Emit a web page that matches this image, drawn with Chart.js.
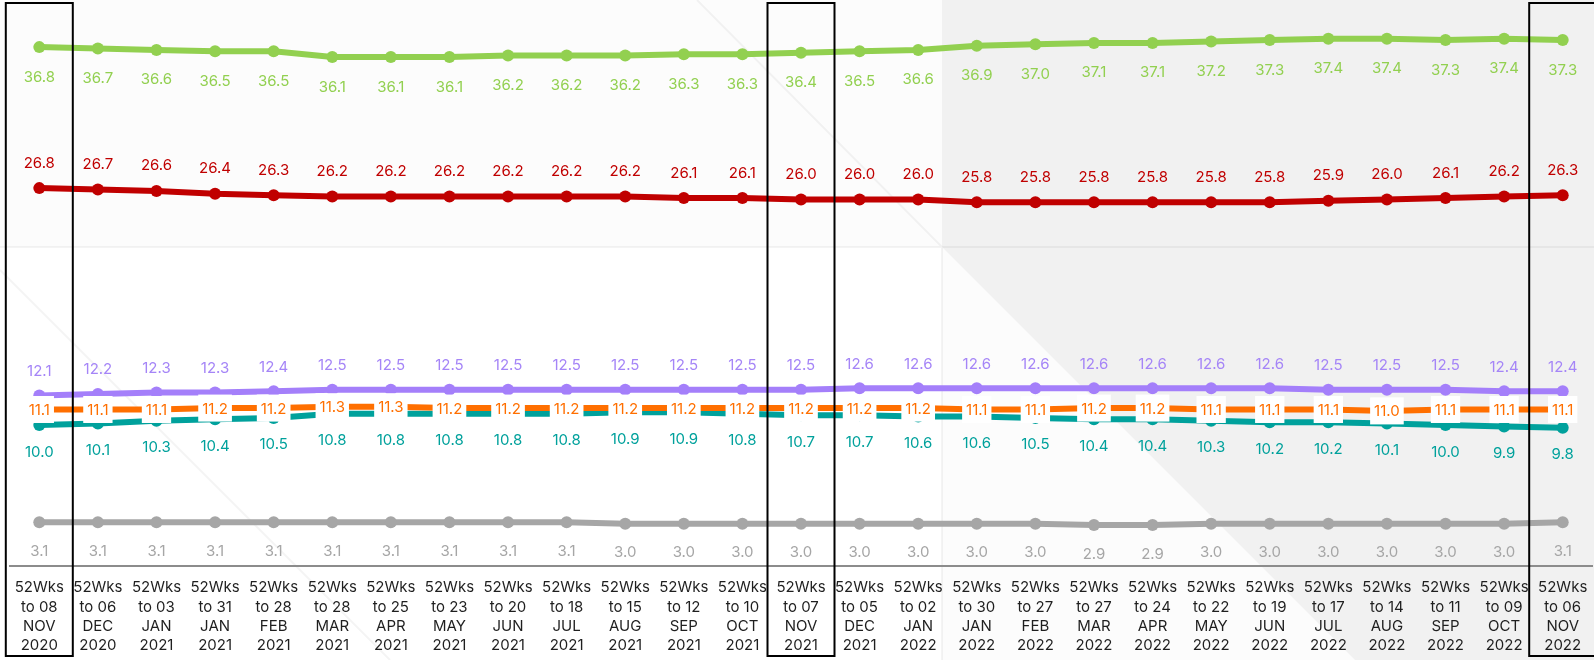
<!DOCTYPE html>
<html>
<head>
<meta charset="utf-8">
<script src="https://cdn.jsdelivr.net/npm/chart.js@4.4.1/dist/chart.umd.min.js"></script>
<style>
  html, body { margin: 0; padding: 0; background: #fdfdfd; }
  #wrap { width: 1594px; height: 660px; position: relative; }
</style>
</head>
<body>
<div id="wrap"><canvas id="c" width="1594" height="660"></canvas></div>
<script>
// Period labels (each tick is four lines)
const periods = [
  ['52Wks', 'to 08', 'NOV', '2020'],
  ['52Wks', 'to 06', 'DEC', '2020'],
  ['52Wks', 'to 03', 'JAN', '2021'],
  ['52Wks', 'to 31', 'JAN', '2021'],
  ['52Wks', 'to 28', 'FEB', '2021'],
  ['52Wks', 'to 28', 'MAR', '2021'],
  ['52Wks', 'to 25', 'APR', '2021'],
  ['52Wks', 'to 23', 'MAY', '2021'],
  ['52Wks', 'to 20', 'JUN', '2021'],
  ['52Wks', 'to 18', 'JUL', '2021'],
  ['52Wks', 'to 15', 'AUG', '2021'],
  ['52Wks', 'to 12', 'SEP', '2021'],
  ['52Wks', 'to 10', 'OCT', '2021'],
  ['52Wks', 'to 07', 'NOV', '2021'],
  ['52Wks', 'to 05', 'DEC', '2021'],
  ['52Wks', 'to 02', 'JAN', '2022'],
  ['52Wks', 'to 30', 'JAN', '2022'],
  ['52Wks', 'to 27', 'FEB', '2022'],
  ['52Wks', 'to 27', 'MAR', '2022'],
  ['52Wks', 'to 24', 'APR', '2022'],
  ['52Wks', 'to 22', 'MAY', '2022'],
  ['52Wks', 'to 19', 'JUN', '2022'],
  ['52Wks', 'to 17', 'JUL', '2022'],
  ['52Wks', 'to 14', 'AUG', '2022'],
  ['52Wks', 'to 11', 'SEP', '2022'],
  ['52Wks', 'to 09', 'OCT', '2022'],
  ['52Wks', 'to 06', 'NOV', '2022']
];

const greenSeries  = [36.8, 36.7, 36.6, 36.5, 36.5, 36.1, 36.1, 36.1, 36.2, 36.2, 36.2, 36.3, 36.3, 36.4, 36.5, 36.6, 36.9, 37.0, 37.1, 37.1, 37.2, 37.3, 37.4, 37.4, 37.3, 37.4, 37.3];
const redSeries    = [26.8, 26.7, 26.6, 26.4, 26.3, 26.2, 26.2, 26.2, 26.2, 26.2, 26.2, 26.1, 26.1, 26.0, 26.0, 26.0, 25.8, 25.8, 25.8, 25.8, 25.8, 25.8, 25.9, 26.0, 26.1, 26.2, 26.3];
const purpleSeries = [12.1, 12.2, 12.3, 12.3, 12.4, 12.5, 12.5, 12.5, 12.5, 12.5, 12.5, 12.5, 12.5, 12.5, 12.6, 12.6, 12.6, 12.6, 12.6, 12.6, 12.6, 12.6, 12.5, 12.5, 12.5, 12.4, 12.4];
const orangeSeries = [11.1, 11.1, 11.1, 11.2, 11.2, 11.3, 11.3, 11.2, 11.2, 11.2, 11.2, 11.2, 11.2, 11.2, 11.2, 11.2, 11.1, 11.1, 11.2, 11.2, 11.1, 11.1, 11.1, 11.0, 11.1, 11.1, 11.1];
const tealSeries   = [10.0, 10.1, 10.3, 10.4, 10.5, 10.8, 10.8, 10.8, 10.8, 10.8, 10.9, 10.9, 10.8, 10.7, 10.7, 10.6, 10.6, 10.5, 10.4, 10.4, 10.3, 10.2, 10.2, 10.1, 10.0, 9.9, 9.8];
const greySeries   = [3.1, 3.1, 3.1, 3.1, 3.1, 3.1, 3.1, 3.1, 3.1, 3.1, 3.0, 3.0, 3.0, 3.0, 3.0, 3.0, 3.0, 3.0, 2.9, 2.9, 3.0, 3.0, 3.0, 3.0, 3.0, 3.0, 3.1];

// Columns outlined with a black frame
const framedColumns = [0, 13, 26];

const FONT = 'Inter, "Open Sans", sans-serif';

// Backdrop: pale panels and faint diagonal rules behind the plot
const backdrop = {
  id: 'backdrop',
  beforeDraw(chart) {
    const ctx = chart.ctx;
    const W = chart.width, H = chart.height;
    ctx.save();
    ctx.fillStyle = '#fcfcfc';
    ctx.fillRect(0, 0, W, H);
    ctx.fillStyle = '#ffffff';
    ctx.fillRect(0, 247, 942, H - 247);
    // grey panel at upper right, cut diagonally below the split line
    ctx.fillStyle = '#f1f1f1';
    ctx.beginPath();
    ctx.moveTo(942, 0);
    ctx.lineTo(W, 0);
    ctx.lineTo(W, H);
    ctx.lineTo(942 + (H - 247), H);
    ctx.lineTo(942, 247);
    ctx.closePath();
    ctx.fill();
    // faint rules
    ctx.strokeStyle = 'rgba(0,0,0,0.045)';
    ctx.lineWidth = 2;
    ctx.beginPath();
    ctx.moveTo(0, 247); ctx.lineTo(W, 247);
    ctx.moveTo(942, 247); ctx.lineTo(942, H);
    ctx.moveTo(697, 0); ctx.lineTo(942, 247);
    ctx.moveTo(0, 270); ctx.lineTo(390, 660);
    ctx.stroke();
    ctx.restore();
  }
};

// Value labels drawn next to each point
const labelSpec = [
  { color: '#92d050', dy: 29 },
  { color: '#c00000', dy: -26 },
  { color: '#a585f7', dy: -25 },
  { color: '#ff6f00', dy: 0, box: true },
  { color: '#00a19c', dy: 26 },
  { color: '#a6a6a6', dy: 28 }
];

const valueLabels = {
  id: 'valueLabels',
  afterDatasetsDraw(chart) {
    const ctx = chart.ctx;
    ctx.save();
    ctx.font = '15px ' + FONT;
    ctx.textAlign = 'center';
    ctx.textBaseline = 'middle';
    // boxed labels go last so they sit over the lines
    const order = [0, 1, 2, 4, 5, 3];
    order.forEach(di => {
      const spec = labelSpec[di];
      const meta = chart.getDatasetMeta(di);
      const data = chart.data.datasets[di].data;
      meta.data.forEach((pt, i) => {
        const txt = data[i].toFixed(1);
        const x = pt.x, y = pt.y + spec.dy;
        if (spec.box) {
          const w = ctx.measureText(txt).width + 8;
          ctx.fillStyle = '#ffffff';
          ctx.fillRect(x - w / 2, y - 13.5, w, 27);
        }
        ctx.fillStyle = spec.color;
        ctx.fillText(txt, x, y + 1);
      });
    });
    ctx.restore();
  }
};

// Black frames around selected columns
const columnFrames = {
  id: 'columnFrames',
  afterDraw(chart) {
    const ctx = chart.ctx;
    const xs = chart.scales.x;
    ctx.save();
    ctx.strokeStyle = '#000000';
    ctx.lineWidth = 2;
    framedColumns.forEach(i => {
      const cx = xs.getPixelForValue(i);
      ctx.strokeRect(cx - 33.5, 3, 67, 653);
    });
    ctx.restore();
  }
};

function lineSet(data, color) {
  return {
    data,
    borderColor: color,
    backgroundColor: color,
    borderWidth: 6,
    pointRadius: 6,
    pointBorderWidth: 0,
    pointBackgroundColor: color,
    tension: 0,
    clip: false
  };
}

new Chart(document.getElementById('c'), {
  type: 'line',
  data: {
    labels: periods,
    datasets: [
      lineSet(greenSeries, '#92d050'),
      lineSet(redSeries, '#c00000'),
      lineSet(purpleSeries, '#a47ffa'),
      lineSet(orangeSeries, '#ff6f00'),
      lineSet(tealSeries, '#00a19c'),
      lineSet(greySeries, '#a6a6a6')
    ]
  },
  options: {
    responsive: false,
    animation: false,
    devicePixelRatio: 1,
    layout: { autoPadding: false, padding: { top: 2, left: 10, right: 2, bottom: 0 } },
    plugins: {
      legend: { display: false },
      tooltip: { enabled: false }
    },
    scales: {
      x: {
        offset: true,
        grid: { display: false, drawTicks: true, tickLength: 12 },
        border: { display: true, color: '#8c8c8c', width: 2 },
        ticks: {
          color: '#1f1f1f',
          font: { family: FONT, size: 15, lineHeight: 1.29 },
          padding: 0,
          maxRotation: 0,
          autoSkip: false
        },
        afterFit(scale) {
          scale.height = 94;
        }
      },
      y: {
        display: false,
        min: 0,
        max: 40
      }
    }
  },
  plugins: [backdrop, valueLabels, columnFrames]
});
</script>
</body>
</html>
